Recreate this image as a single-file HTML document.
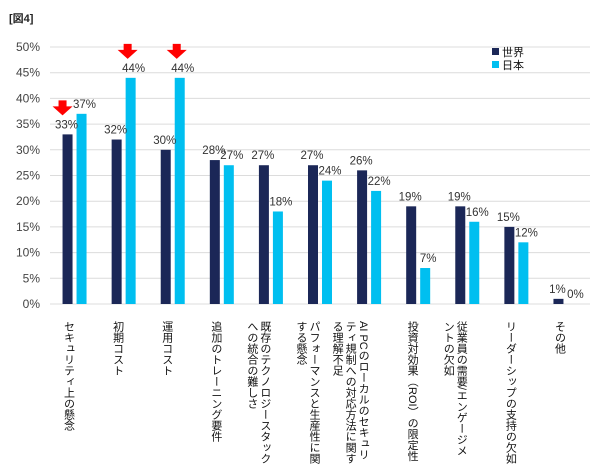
<!DOCTYPE html>
<html><head><meta charset="utf-8"><style>
body{margin:0;background:#fff;font-family:"Liberation Sans","Noto Sans CJK JP",sans-serif;}
#wrap{position:relative;width:600px;height:472px;overflow:hidden;}
.xl{position:absolute;top:321px;writing-mode:vertical-rl;font-size:11px;line-height:13px;color:#111;white-space:nowrap;}
</style></head><body>
<div id="wrap">
<div style="position:absolute;left:9px;top:10px;font-size:11px;font-weight:bold;color:#222">[図4]</div>
<svg id="svg" width="600" height="472" style="position:absolute;left:0;top:0"></svg>
</div>
<script>
const categories=["セキュリティ上の懸念","初期コスト","運用コスト","追加のトレーニング要件","既存のテクノロジースタック\nへの統合の難しさ","パフォーマンスと生産性に関\nする懸念","AI PCのローカルのセキュリ\nティ規制への対応方法に関す\nる理解不足","投資対効果（ROI）の限定性","従業員の需要/エンゲージメ\nントの欠如","リーダーシップの支持の欠如","その他"];
const worldValues=[33,32,30,28,27,27,26,19,19,15,1];
const japanValues=[37,44,44,27,18,24,22,7,16,12,0];
const yTicks=[0,5,10,15,20,25,30,35,40,45,50];
const arrowIdx=[0,1,2];
const arrowSeries=["world","japan","japan"];
const NS="http://www.w3.org/2000/svg";
const svg=document.getElementById('svg');
const wrap=document.getElementById('wrap');
const x0=50,x1=590,y0=304,y1=47;
const band=(x1-x0)/categories.length;
const yS=v=>y0-(v/50)*(y0-y1);
const cx=i=>x0+band*(i+0.5);
function mk(t,a){const e=document.createElementNS(NS,t);for(const k in a)e.setAttribute(k,a[k]);svg.appendChild(e);return e;}
yTicks.forEach(t=>{
 const g=mk('line',{x1:x0,x2:x1,y1:yS(t),y2:yS(t),stroke:'#dcdcdc','stroke-width':1});
 
 
 const tx=mk('text',{x:40,y:yS(t)+4,'text-anchor':'end','font-size':12,fill:'#444','font-family':'Liberation Sans, sans-serif'});
 tx.textContent=t+'%';
 
 
});
categories.forEach((c,i)=>{
 const xd=cx(i)-7,xj=cx(i)+7;
 const b1=mk('rect',{x:xd-5,y:yS(worldValues[i]),width:10,height:y0-yS(worldValues[i]),fill:'#1b2757'});
 
 
 const b2=mk('rect',{x:xj-5,y:yS(japanValues[i]),width:10,height:y0-yS(japanValues[i]),fill:'#00bff0'});
 
 
 const t1=mk('text',{x:xd-1,y:yS(worldValues[i])-6,'text-anchor':'middle','font-size':11.5,fill:'#333','font-family':'Liberation Sans, sans-serif'});
 t1.textContent=worldValues[i]+'%';
 
 
 const t2=mk('text',{x:xj+3,y:yS(japanValues[i])-6,'text-anchor':'middle','font-size':11.5,fill:'#333','font-family':'Liberation Sans, sans-serif'});
 t2.textContent=japanValues[i]+'%';
 
 
 const d=document.createElement('div');
 d.className='xl';
 d.innerHTML=c.replace(/\n/g,'<br>');
 
 
 wrap.appendChild(d);
 const w=d.offsetWidth;
 d.style.left=(xd+7-w)+'px';
});
arrowIdx.forEach((i,k)=>{
 const v=arrowSeries[k]==='world'?worldValues[i]:japanValues[i];
 const ax=arrowSeries[k]==='world'?cx(i)-12:cx(i)+4;
 const top=yS(v)-34;
 const a=mk('polygon',{points:`${ax-4},${top} ${ax+4},${top} ${ax+4},${top+6} ${ax+10},${top+6} ${ax},${top+15} ${ax-10},${top+6} ${ax-4},${top+6}`,fill:'#ff0000'});
 
 
});
[['世界','#1b2757',56],['日本','#00bff0',69]].forEach(([n,c,y])=>{
 const r=mk('rect',{x:492,y:y-8,width:7,height:7,fill:c});
 
 
 const t=mk('text',{x:502,y:y,'font-size':11,fill:'#111','font-family':'Liberation Sans, Noto Sans CJK JP, sans-serif'});
 t.textContent=n;
 
 
});
</script>
</body></html>
